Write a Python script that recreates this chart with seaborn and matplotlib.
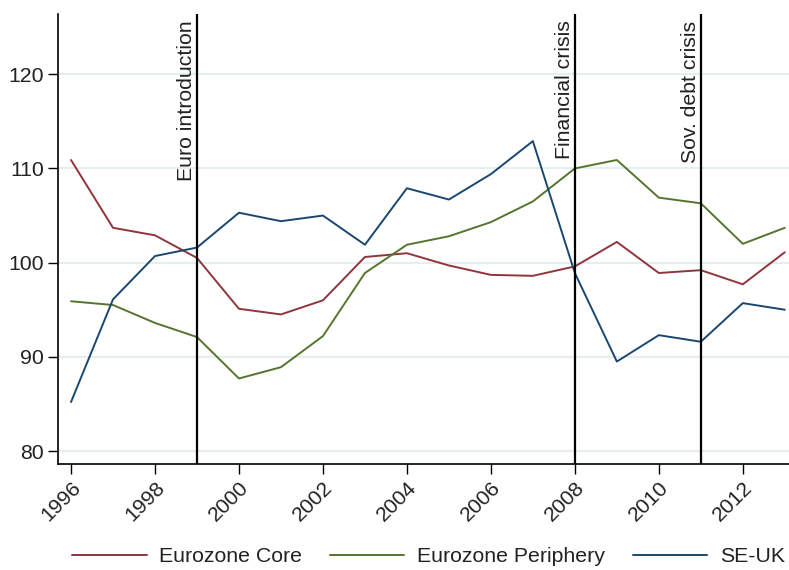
import numpy as np
import pandas as pd
import matplotlib
matplotlib.use("Agg")
import matplotlib.pyplot as plt
import seaborn as sns

years = list(range(1996, 2014))
core = [110.9, 103.7, 102.9, 100.5, 95.1, 94.5, 96.0, 100.6, 101.0, 99.7,
        98.7, 98.6, 99.6, 102.2, 98.9, 99.2, 97.7, 101.1]
periphery = [95.9, 95.5, 93.6, 92.1, 87.7, 88.9, 92.2, 98.9, 101.9, 102.8,
             104.3, 106.5, 110.0, 110.9, 106.9, 106.3, 102.0, 103.7]
se_uk = [85.2, 96.1, 100.7, 101.6, 105.3, 104.4, 105.0, 101.9, 107.9, 106.7,
         109.4, 112.9, 98.9, 89.5, 92.3, 91.6, 95.7, 95.0]
series_names = ["Eurozone Core", "Eurozone Periphery", "SE-UK"]
series_colors = ["#90353b", "#55752f", "#1a476f"]

events = [1999, 2008, 2011]
event_labels = ["Euro introduction", "Financial crisis", "Sov. debt crisis"]

x_ticks = list(range(1996, 2013, 2))
y_ticks = [80, 90, 100, 110, 120]

df = pd.DataFrame({
    "year": years * 3,
    "value": core + periphery + se_uk,
    "series": sum([[n] * len(years) for n in series_names], []),
})

sns.set_theme(style="white")
plt.rcParams["font.family"] = ["Liberation Sans", "DejaVu Sans"]
plt.rcParams["text.color"] = "#222222"
FS = 15.3

fig = plt.figure(figsize=(7.89, 5.70), dpi=100)
ax = fig.add_axes([58 / 789, 1 - 464 / 570, 1 - 58 / 789, (464 - 14) / 570])

for yt in y_ticks:
    ax.axhline(yt, color="#e6eef0", lw=1.5, zorder=0)

sns.lineplot(data=df, x="year", y="value", hue="series", hue_order=series_names,
             palette=series_colors, lw=1.4, ax=ax, legend=True)

ax.set_xlim(1995.69, 2013.1)
ax.set_ylim(78.62, 126.4)

for ev, lab in zip(events, event_labels):
    ax.axvline(ev, color="black", lw=1.6, zorder=3)
    ax.text(ev - 0.03, 125.7, lab, rotation=90, ha="right", va="top",
            fontsize=FS, color="#222222")

ax.set_xticks(x_ticks)
ax.set_xticklabels([str(t) for t in x_ticks], rotation=45, ha="right",
                   rotation_mode="anchor", fontsize=FS, color="#222222")
ax.set_yticks(y_ticks)
ax.set_yticklabels([str(t) for t in y_ticks], fontsize=FS, color="#222222")
ax.tick_params(axis="both", direction="out", length=7, width=1, color="black",
               bottom=True, left=True, pad=3)

ax.set_xlabel("")
ax.set_ylabel("")
for side in ["top", "right"]:
    ax.spines[side].set_visible(False)
for side in ["left", "bottom"]:
    ax.spines[side].set_color("black")
    ax.spines[side].set_linewidth(1.2)

handles, labels = ax.get_legend_handles_labels()
ax.get_legend().remove()
fig.legend(handles, labels, loc="center", bbox_to_anchor=(428.5 / 789, 1 - 557 / 570),
           ncol=3, frameon=False, fontsize=FS, handlelength=3.5, columnspacing=1.3,
           handletextpad=0.6, borderaxespad=0, borderpad=0)

fig.savefig("out.png", dpi=100)
